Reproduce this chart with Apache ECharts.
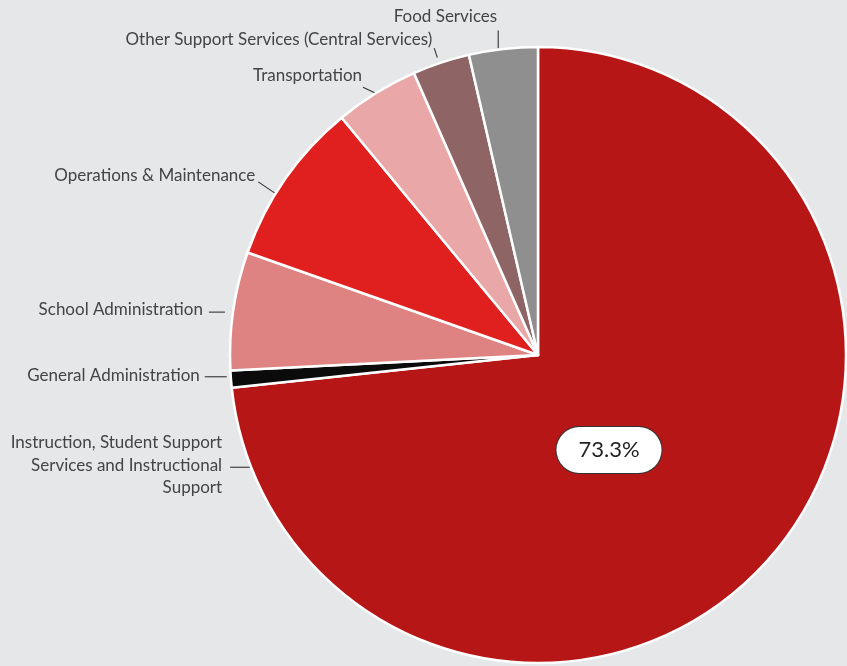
<!DOCTYPE html>
<html><head><meta charset="utf-8">
<style>html,body{margin:0;padding:0;background:#e6e7e9;}#chart{width:847px;height:666px;}</style>
<script src="https://cdn.jsdelivr.net/npm/echarts@6/dist/echarts.min.js"></script>
</head><body><div id="chart"></div>
<script>
const categories = [
  'Instruction, Student Support\nServices and Instructional\nSupport',
  'General Administration',
  'School Administration',
  'Operations & Maintenance',
  'Transportation',
  'Other Support Services (Central Services)',
  'Food Services'
];
const shares = [73.3, 0.9, 6.2, 8.6, 4.4, 3.0, 3.6];
const colors = ['#b71616', '#0b0b0b', '#de8282', '#e01f1f', '#eaa7a7', '#8e6464', '#8f8f8f'];

/* layout (not data): pie geometry and label connector placement */
const CX = 538, CY = 355, R = 308;
const FONT = 'Lato, "Open Sans", sans-serif';
// per label: anchor angle on the rim (deg, CCW from +x), extra radius, connector direction (deg above leftward horizontal),
// connector length, text right-edge offset and text middle offset from connector end
const connectors = [
  {theta: 201.3, dr: 1, phi: 0,  len: 20, tx: -8, ty: -2},
  {theta: 184.0, dr: 4, phi: 0,  len: 22, tx: -5, ty: -1},
  {theta: 172.2, dr: 8, phi: 0,  len: 16, tx: -6, ty: -3},
  {theta: 148.4, dr: 0, phi: 34, len: 21, tx: -3, ty: -6},
  {theta: 121.8, dr: 0, phi: 25, len: 14, tx: -1, ty: -12},
  {theta: 108.7, dr: 6, phi: 72, len: 10, tx: -2, ty: -9},
  {theta: 97.4,  dr: 1, phi: 90, len: 18, tx: -1, ty: -14}
];

const chart = echarts.init(document.getElementById('chart'), null, {renderer: 'canvas'});

const mainData = categories.map((c, i) => ({name: c, value: shares[i], itemStyle: {color: colors[i]}}));
const overlayData = categories.map((c, i) => ({name: c, value: shares[i], label: {show: i === 0}}));

chart.setOption({
  backgroundColor: '#e6e7e9',
  animation: false,
  series: [
    {
      type: 'pie',
      center: [CX, CY],
      radius: [0, R],
      startAngle: 90,
      clockwise: true,
      avoidLabelOverlap: false,
      silent: true,
      itemStyle: {borderColor: '#ffffff', borderWidth: 2.5},
      label: {
        show: true, position: 'outside', alignTo: 'none',
        color: '#444', fontFamily: FONT, fontSize: 17, lineHeight: 22.5,
        align: 'right'
      },
      labelLine: {show: true, length: 15, length2: 0, lineStyle: {color: '#333', width: 1.1}},
      labelLayout: function (p) {
        const c = connectors[p.dataIndex];
        const a = c.theta * Math.PI / 180;
        const r = R + c.dr;
        const sx = CX + r * Math.cos(a), sy = CY - r * Math.sin(a);
        const f = c.phi * Math.PI / 180;
        const ex = sx - c.len * Math.cos(f), ey = sy - c.len * Math.sin(f);
        return {
          x: ex + c.tx, y: ey + c.ty, align: 'right', verticalAlign: 'middle',
          labelLinePoints: [[sx, sy], [ex, ey], [ex, ey]]
        };
      },
      data: mainData
    },
    {
      type: 'pie',
      center: [CX, CY],
      radius: [0, R],
      startAngle: 90,
      clockwise: true,
      silent: true,
      avoidLabelOverlap: false,
      itemStyle: {color: 'rgba(0,0,0,0)', borderWidth: 0},
      label: {
        position: 'inside',
        formatter: function (p) { return p.value.toFixed(1) + '%'; },
        color: '#222', fontFamily: FONT, fontSize: 22, lineHeight: 26,
        backgroundColor: '#ffffff', borderColor: '#333', borderWidth: 1,
        borderRadius: 23, padding: [10, 22]
      },
      labelLine: {show: false},
      labelLayout: function () {
        return {x: 609, y: 450, align: 'center', verticalAlign: 'middle'};
      },
      data: overlayData
    }
  ]
});
</script>
</body></html>
